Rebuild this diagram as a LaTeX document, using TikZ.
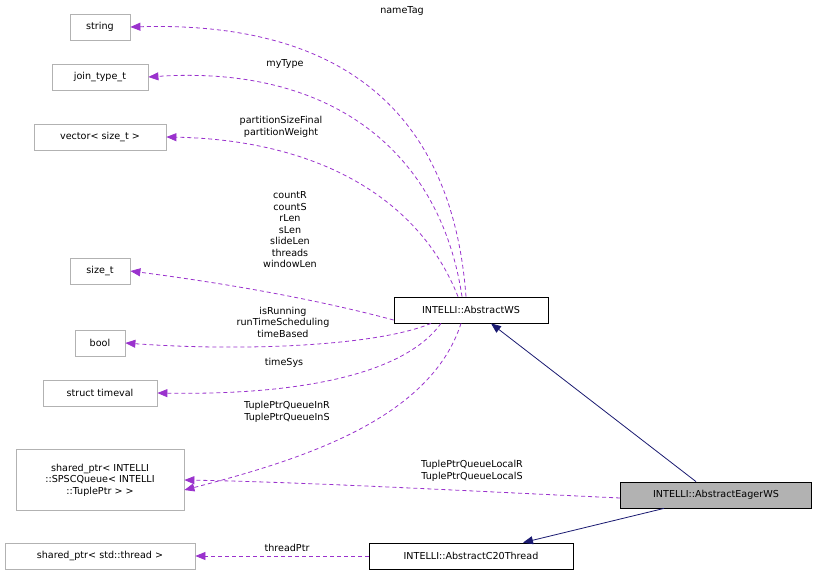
\documentclass[tikz,border=0pt]{standalone}
\usepackage{fontspec}
\setmainfont{DejaVu Sans}
\usetikzlibrary{arrows.meta}
\definecolor{edgepurple}{HTML}{9A32CD}
\definecolor{edgenavy}{HTML}{191970}
\begin{document}
\begin{tikzpicture}[x=1pt, y=-1pt, font=\fontsize{9.6}{11.5}\selectfont, line width=0.8pt]
  \tikzset{
    box/.style = {draw=black!30, minimum height=26pt, inner sep=4pt, align=center},
    cls/.style = {draw=black, minimum height=26pt, inner sep=4pt},
    member/.style = {edgepurple, dash pattern=on 4pt off 3pt, -{Triangle[length=10pt, width=8pt]}},
    base/.style = {edgenavy, -{Triangle[length=10pt, width=8pt]}},
    lbl/.style = {align=center, inner sep=0pt}
  }
  \useasboundingbox (0,0) rectangle (817,576);
  % member types
  \node (str) [box, minimum width=60pt] at (100,27) {string};
  \node (jt) [box, minimum width=96pt] at (100,77) {join\_type\_t};
  \node (vec) [box, minimum width=132pt] at (100,137) {vector< size\_t >};
  \node (sz) [box, minimum width=60pt] at (100,271) {size\_t};
  \node (bl) [box, minimum width=50pt] at (100,343) {bool};
  \node (tv) [box, minimum width=114pt] at (100,393) {struct timeval};
  \node (sp) [box, minimum width=168pt, minimum height=61pt] at (100,480)
    {shared\_ptr< INTELLI\\::SPSCQueue< INTELLI\\::TuplePtr > >};
  \node (th) [box, minimum width=190pt] at (100,556) {shared\_ptr< std::thread >};
  % classes
  \node (ws) [cls, minimum width=154pt] at (471,310) {INTELLI::AbstractWS};
  \node (eager) [cls, minimum width=191pt, fill=black!30] at (716,495) {INTELLI::AbstractEagerWS};
  \node (c20) [cls, minimum width=204pt] at (471,556) {INTELLI::AbstractC20Thread};
  % inheritance
  \draw[base] (eager.north) ++(-20,0) -- ([xshift=20pt]ws.south);
  \draw[base] ([xshift=-52pt]eager.south) -- ([xshift=52pt]c20.north);
  % members
  \draw[member] ([xshift=-5pt]ws.north) .. controls (455,150) and (380,20) .. (str.east);
  \draw[member] ([xshift=-9pt]ws.north) .. controls (440,150) and (330,65) .. (jt.east);
  \draw[member] ([xshift=-13pt]ws.north) .. controls (420,200) and (320,140) .. (vec.east);
  \draw[member] ([yshift=-10pt]ws.west) .. controls (300,295) and (200,280) .. (sz.east);
  \draw[member] ([xshift=-40pt]ws.south) .. controls (380,345) and (250,352) .. (bl.east);
  \draw[member] ([xshift=-30pt]ws.south) .. controls (400,380) and (280,395) .. (tv.east);
  \draw[member] ([xshift=-10pt]ws.south) .. controls (430,420) and (300,460) .. ([yshift=-10pt]sp.east);
  \draw[member] ([yshift=-3pt]eager.west) .. controls (450,490) and (300,482) .. (sp.east);
  \draw[member] (c20.west) -- (th.east);
  % labels
  \node (lname) [lbl] at (402,11) {nameTag};
  \node (ltype) [lbl] at (285,64) {myType};
  \node (lpart) [lbl] at (281,127) {partitionSizeFinal\\partitionWeight};
  \node (lcount) [lbl] at (290,230) {countR\\countS\\rLen\\sLen\\slideLen\\threads\\windowLen};
  \node (lrun) [lbl] at (283,322) {isRunning\\runTimeScheduling\\timeBased};
  \node (lsys) [lbl] at (284,363) {timeSys};
  \node (lin) [lbl] at (287,412) {TuplePtrQueueInR\\TuplePtrQueueInS};
  \node (llocal) [lbl] at (472,471) {TuplePtrQueueLocalR\\TuplePtrQueueLocalS};
  \node (lthr) [lbl] at (287,548) {threadPtr};
\end{tikzpicture}
\end{document}
